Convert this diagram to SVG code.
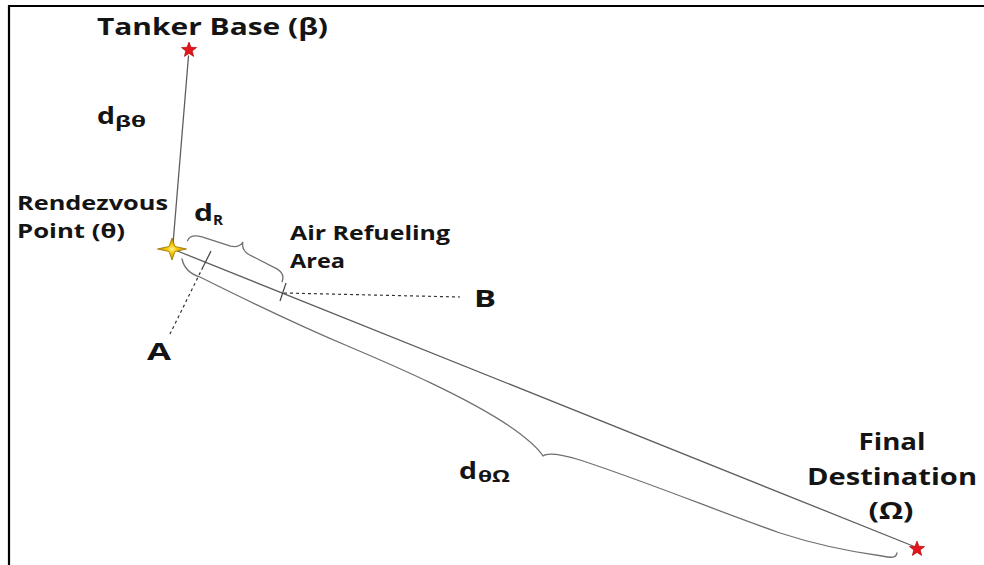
<svg xmlns="http://www.w3.org/2000/svg" xmlns:xlink="http://www.w3.org/1999/xlink" width="984" height="565" viewBox="0 0 984 565">
  <style>
    .lbl { font-family: "Open Sans", "Liberation Sans", sans-serif; font-weight: 700; fill: #141414; }
    .edge { fill: none; stroke: #5e5e5e; stroke-width: 1.3; stroke-linecap: round; }
    .brace { fill: none; stroke: #707070; stroke-width: 1.3; stroke-linecap: round; stroke-linejoin: round; }
    .dash { fill: none; stroke: #333; stroke-width: 1.2; stroke-dasharray: 3 3; }
    .tick { fill: none; stroke: #444; stroke-width: 1.2; }
    .frame { fill: none; stroke: #000; stroke-width: 2.2; }
  </style>
  <defs>
    <polygon id="redstar" points="0,-8 2,-2.75 7.61,-2.47 3.23,1.05 4.7,6.47 0,3.4 -4.7,6.47 -3.23,1.05 -7.61,-2.47 -2,-2.75" fill="#e3141c" stroke="#a80000" stroke-width="0.6"/>
    <radialGradient id="gold" cx="0.5" cy="0.5" r="0.5">
      <stop offset="0" stop-color="#fff59a"/>
      <stop offset="0.35" stop-color="#f7c800"/>
      <stop offset="1" stop-color="#c28e00"/>
    </radialGradient>
  </defs>

  <rect width="984" height="565" fill="#fff"/>

  <g id="frame">
    <line class="frame" x1="8" y1="6" x2="984" y2="6"/>
    <line class="frame" x1="9" y1="5" x2="9" y2="565"/>
  </g>

  <g id="connectors">
    <line class="edge" x1="188.5" y1="56" x2="173" y2="244"/>
    <line class="edge" x1="175" y1="250" x2="913" y2="546"/>
    <path class="brace" transform="translate(173,250) rotate(21.8)" d="M10,-14 C10,-19 14,-22 22,-23 L52,-25 C58,-26 61,-29 62,-33 C63,-28 66,-25 72,-24 L104,-21 C110,-20 113,-17 113,-11"/>
    <path class="brace" d="M182,259 C184,268 190,274 200,277 C230,292 300,326 350,347 C390,364 470,398 515,430 C530,441 538,448 543,456 C548,452 560,454 580,460 C650,483 720,512 780,533 C820,546 860,553 882,556 C892,558 896,558 897,553"/>
    <line class="tick" x1="211" y1="251" x2="203" y2="267"/>
    <line class="dash" x1="203" y1="267" x2="170" y2="334"/>
    <line class="tick" x1="286" y1="283" x2="280" y2="301"/>
    <line class="dash" x1="284" y1="293" x2="460" y2="297"/>
  </g>

  <g id="tanker-base">
    <use xlink:href="#redstar" href="#redstar" x="189" y="50"/>
    <text class="lbl" x="97" y="35" font-size="24" textLength="231" lengthAdjust="spacingAndGlyphs">Tanker Base (β)</text>
  </g>

  <g id="d-beta-theta">
    <text class="lbl" x="97" y="124" font-size="23" textLength="18" lengthAdjust="spacingAndGlyphs">d</text>
    <text class="lbl" x="115" y="127" font-size="16" textLength="31" lengthAdjust="spacingAndGlyphs">βθ</text>
  </g>

  <g id="rendezvous-point">
    <polygon points="157.5,249 169,246.5 172,238 175,246.5 186.5,249 175,251.5 172,260 169,251.5" fill="url(#gold)" stroke="#9a7000" stroke-width="0.8"/>
    <text class="lbl" x="17" y="210" font-size="20" textLength="151" lengthAdjust="spacingAndGlyphs">Rendezvous</text>
    <text class="lbl" x="17" y="238" font-size="20" textLength="108" lengthAdjust="spacingAndGlyphs">Point (θ)</text>
  </g>

  <g id="d-r">
    <text class="lbl" x="194" y="221" font-size="23" textLength="19" lengthAdjust="spacingAndGlyphs">d</text>
    <text class="lbl" x="213" y="225" font-size="15" textLength="10" lengthAdjust="spacingAndGlyphs">R</text>
  </g>

  <g id="air-refueling-area">
    <text class="lbl" x="290" y="240" font-size="20" textLength="160" lengthAdjust="spacingAndGlyphs">Air Refueling</text>
    <text class="lbl" x="290" y="268" font-size="20" textLength="55" lengthAdjust="spacingAndGlyphs">Area</text>
  </g>

  <g id="point-a">
    <text class="lbl" x="147" y="360" font-size="24" textLength="24" lengthAdjust="spacingAndGlyphs">A</text>
  </g>

  <g id="point-b">
    <text class="lbl" x="474" y="307" font-size="24" textLength="22" lengthAdjust="spacingAndGlyphs">B</text>
  </g>

  <g id="d-theta-omega">
    <text class="lbl" x="459" y="479" font-size="23" textLength="18" lengthAdjust="spacingAndGlyphs">d</text>
    <text class="lbl" x="478" y="482" font-size="16" textLength="32" lengthAdjust="spacingAndGlyphs">θΩ</text>
  </g>

  <g id="final-destination">
    <use xlink:href="#redstar" href="#redstar" x="917" y="549"/>
    <text class="lbl" x="892" y="450" font-size="24" text-anchor="middle" textLength="67" lengthAdjust="spacingAndGlyphs">Final</text>
    <text class="lbl" x="892" y="485" font-size="24" text-anchor="middle" textLength="170" lengthAdjust="spacingAndGlyphs">Destination</text>
    <text class="lbl" x="891" y="519" font-size="24" text-anchor="middle" textLength="45" lengthAdjust="spacingAndGlyphs">(Ω)</text>
  </g>
</svg>
